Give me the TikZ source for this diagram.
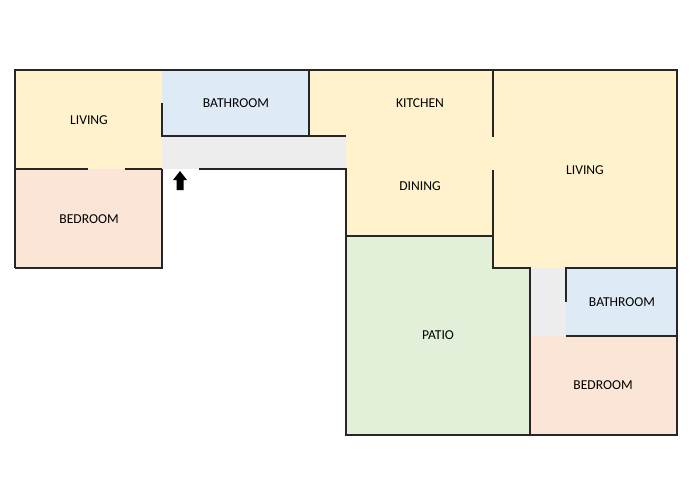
\documentclass[tikz,border=0pt]{standalone}
\usepackage{fontspec}
\setmainfont{Carlito}
\begin{document}
\begin{tikzpicture}[x=0.75pt,y=-0.75pt,
  wall/.style={line width=1.3pt,draw=black!85},
  lbl/.style={font=\fontsize{10.2}{11}\selectfont}]
\useasboundingbox (0,0) rectangle (700,500);
\definecolor{yel}{HTML}{FFF2CC}
\definecolor{bed}{HTML}{FBE5D6}
\definecolor{bat}{HTML}{DEEBF7}
\definecolor{pat}{HTML}{E2F0D9}
\definecolor{hal}{HTML}{EDEDED}
% fills
\fill[yel] (15,70) rectangle (162,169);
\fill[bed] (15,169) rectangle (162,268);
\fill[bat] (162,70) rectangle (309,136);
\fill[hal] (162,136) rectangle (346,169);
\fill[yel] (309,70) rectangle (493,136);
\fill[yel] (346,136) rectangle (493,236);
\fill[pat] (346,236) rectangle (530,435);
\fill[yel] (493,70) rectangle (677,268);
\fill[hal] (530,268) rectangle (566,336);
\fill[bat] (566,268) rectangle (677,336);
\fill[bed] (530,336) rectangle (677,435);
% walls
\draw[wall] (15,268) -- (15,70) -- (677,70) -- (677,435) -- (346,435) -- (346,169) -- (199,169);
\draw[wall] (15,169) -- (88,169) (125,169) -- (162,169);
\draw[wall] (162,103) -- (162,136) -- (346,136);
\draw[wall] (309,70) -- (309,136);
\draw[wall] (162,169) -- (162,268) -- (15,268);
\draw[wall] (493,70) -- (493,137) (493,170) -- (493,268) -- (530,268) -- (530,435);
\draw[wall] (346,236) -- (493,236);
\draw[wall] (566,302) -- (566,268) -- (677,268);
\draw[wall] (566,336) -- (677,336);
% arrow
\fill[black] (180,171) -- (187,180) -- (183.5,180) -- (183.5,190) -- (176.5,190) -- (176.5,180) -- (173,180) -- cycle;
% labels
\node[lbl] (l1) at (89,120) {LIVING};
\node[lbl] (b1) at (89,219) {BEDROOM};
\node[lbl] (ba1) at (236,103) {BATHROOM};
\node[lbl] (k) at (420,103) {KITCHEN};
\node[lbl] (d) at (420,186) {DINING};
\node[lbl] (l2) at (585,170) {LIVING};
\node[lbl] (ba2) at (622,302) {BATHROOM};
\node[lbl] (p) at (438,335) {PATIO};
\node[lbl] (b2) at (603,385) {BEDROOM};
\end{tikzpicture}
\end{document}
